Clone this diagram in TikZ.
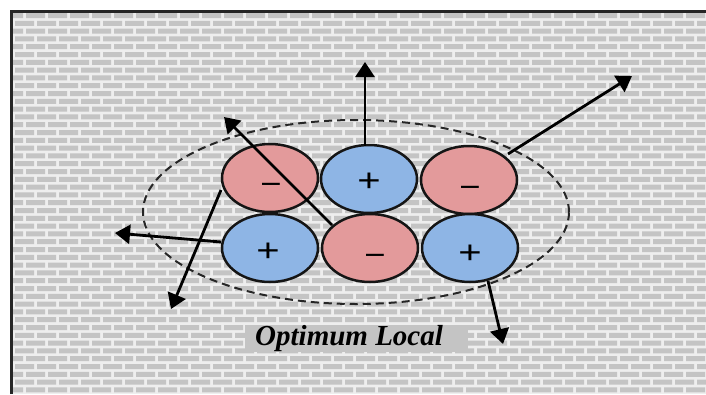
\documentclass[tikz,border=0pt]{standalone}
\usepackage{fontspec}
\setmainfont{Liberation Serif}
\newfontfamily\signfont{Liberation Sans}
\usetikzlibrary{shapes.geometric,arrows.meta}
\definecolor{mortar}{HTML}{EEEEEE}
\definecolor{brick}{HTML}{C4C4C4}
\definecolor{redfill}{HTML}{E39A9B}
\definecolor{bluefill}{HTML}{8EB5E5}
\definecolor{outline}{HTML}{151515}
\definecolor{labelbg}{HTML}{C4C4C4}
\tikzset{
  charge/.style={ellipse, draw=outline, line width=2.5pt, minimum width=96pt, minimum height=68pt, inner sep=0pt},
  negcharge/.style={charge, fill=redfill},
  poscharge/.style={charge, fill=bluefill},
  sign/.style={font=\signfont\fontsize{32}{32}\selectfont, anchor=base, inner sep=0pt, text=black},
  move/.style={line width=2.8pt, black, -{Triangle[length=15pt,width=19pt]}},
  region/.style={line width=2pt, dash pattern=on 8pt off 5pt, black!85},
}
\begin{document}
\begin{tikzpicture}[x=1pt,y=-1pt]
\useasboundingbox (0,0) rectangle (706,394);
\fill[white] (0,0) rectangle (706,394);
\begin{scope}
\clip (12,12) rectangle (706,394);
\fill[mortar] (12,12) rectangle (706,394);
\fill[brick] \foreach \r in {0,...,50} {
  \foreach \c in {-1,...,32} {
    ({\c*22 + mod(\r,2)*11 + 4}, {\r*7.8 + 13}) rectangle ++(19,5)
  }
};
\end{scope}
\draw[line width=2.6pt, black!85] (11.3,394) -- (11.3,11.3) -- (706,11.3);

% dashed region
\node[ellipse, region, draw, minimum width=426pt, minimum height=184pt, inner sep=0pt] (zone) at (356,212) {};

% charges
\node[negcharge] (a1) at (270,178) {};
\node[poscharge] (a2) at (369,179) {};
\node[negcharge] (a3) at (469,180) {};
\node[poscharge] (b1) at (270,248) {};
\node[negcharge] (b2) at (370,248) {};
\node[poscharge] (b3) at (470,248) {};

\node[sign] (t1) at (271,192) {–};
\node[sign] (t2) at (369,191) {\scalebox{1.25}[1]{+}};
\node[sign] (t3) at (470,195) {–};
\node[sign] (t4) at (268,261) {\scalebox{1.25}[1]{+}};
\node[sign] (t5) at (375,263) {–};
\node[sign] (t6) at (470,263) {\scalebox{1.25}[1]{+}};

% arrow ends
\coordinate (s1) at (365,146);
\coordinate (e1) at (365,62);
\coordinate (s2) at (508,154);
\coordinate (e2) at (632,76);
\coordinate (s3) at (332,225);
\coordinate (e3) at (224,117);
\coordinate (s4) at (221,242);
\coordinate (e4) at (115,233);
\coordinate (s5) at (221,190);
\coordinate (e5) at (171,309);
\coordinate (s6) at (488,281);
\coordinate (e6) at (503,344);

\draw[move] (s1) -- (e1);
\draw[move] (s2) -- (e2);
\draw[move] (s3) -- (e3);
\draw[move] (s4) -- (e4);
\draw[move] (s5) -- (e5);
\draw[move] (s6) -- (e6);

% label
\node[fill=labelbg, anchor=north west, inner xsep=10pt, inner ysep=0pt, minimum height=27pt,
      font=\bfseries\itshape\fontsize{29}{29}\selectfont] (lbl) at (245,325) {Optimum Local\hspace*{15pt}\mbox{}};
\end{tikzpicture}
\end{document}
